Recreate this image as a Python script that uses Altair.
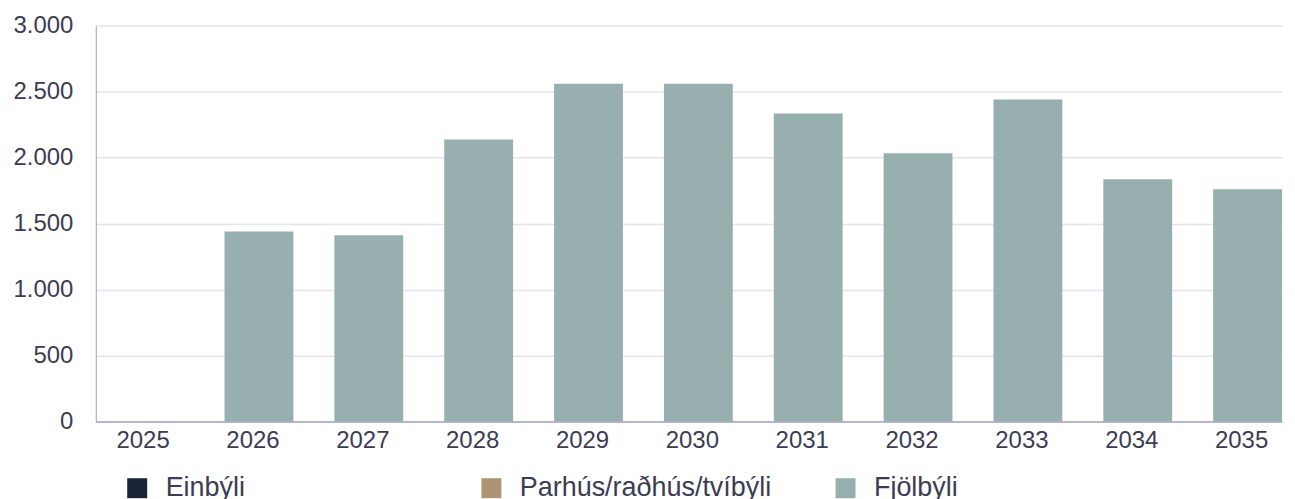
import altair as alt
import pandas as pd

years = ["2025", "2026", "2027", "2028", "2029", "2030", "2031", "2032", "2033", "2034", "2035"]
categories = ["Einbýli", "Parhús/raðhús/tvíbýli", "Fjölbýli"]
colors = ["#1b2437", "#ad9472", "#98afaf"]

einbyli = [0, 0, 0, 0, 0, 0, 0, 0, 0, 0, 0]
parhus = [0, 0, 0, 0, 0, 0, 0, 0, 0, 0, 0]
fjolbyli = [0, 1440, 1411, 2137, 2560, 2560, 2334, 2032, 2440, 1835, 1760]

y_ticks = [0, 500, 1000, 1500, 2000, 2500, 3000]

rows = []
for series_name, values in zip(categories, [einbyli, parhus, fjolbyli]):
    for yr, v in zip(years, values):
        rows.append({"ar": yr, "flokkur": series_name, "fjoldi": v,
                     "rod": categories.index(series_name)})
df = pd.DataFrame(rows)

FONT = "Liberation Sans"
TXT = "#3c3c52"
AXIS = "#a4a4c4"
GRID = "#e4e4ec"

chart = alt.Chart(df).mark_bar(strokeWidth=0).encode(
    x=alt.X("ar:N", sort=years, title=None,
            scale=alt.Scale(paddingInner=0.3733, paddingOuter=0.086, align=1),
            axis=alt.Axis(labelAngle=0, ticks=False, domainColor=AXIS, domainWidth=1.5,
                          labelFontSize=24, labelColor=TXT, labelFont=FONT,
                          labelPadding=7, labelOffset=-6, grid=False)),
    y=alt.Y("fjoldi:Q", stack="zero", title=None,
            scale=alt.Scale(domain=[0, 3000], nice=False),
            axis=alt.Axis(values=y_ticks, ticks=False, domainColor=AXIS, domainWidth=1,
                          gridColor=GRID, gridWidth=1.5,
                          labelFontSize=24, labelColor=TXT, labelFont=FONT,
                          labelPadding=23,
                          labelExpr="replace(format(datum.value, ','), ',', '.')")),
    color=alt.Color("flokkur:N", title=None,
                    scale=alt.Scale(domain=categories, range=colors),
                    legend=alt.Legend(orient="none", legendX=28, legendY=450,
                                      direction="horizontal", columns=3,
                                      gridAlign="all", columnPadding=60,
                                      symbolType="square", symbolSize=400,
                                      symbolStrokeWidth=0, labelOffset=15,
                                      labelFontSize=27, labelColor=TXT,
                                      labelFont=FONT, labelLimit=0, padding=0)),
    order=alt.Order("rod:Q", sort="ascending"),
).properties(
    width=1189, height=397,
    padding={"left": 4, "top": 5, "right": 5, "bottom": 5},
).configure(font=FONT, view=alt.ViewConfig(stroke=None))

chart.save("out.html", embed_options={"renderer": "svg", "actions": False})
